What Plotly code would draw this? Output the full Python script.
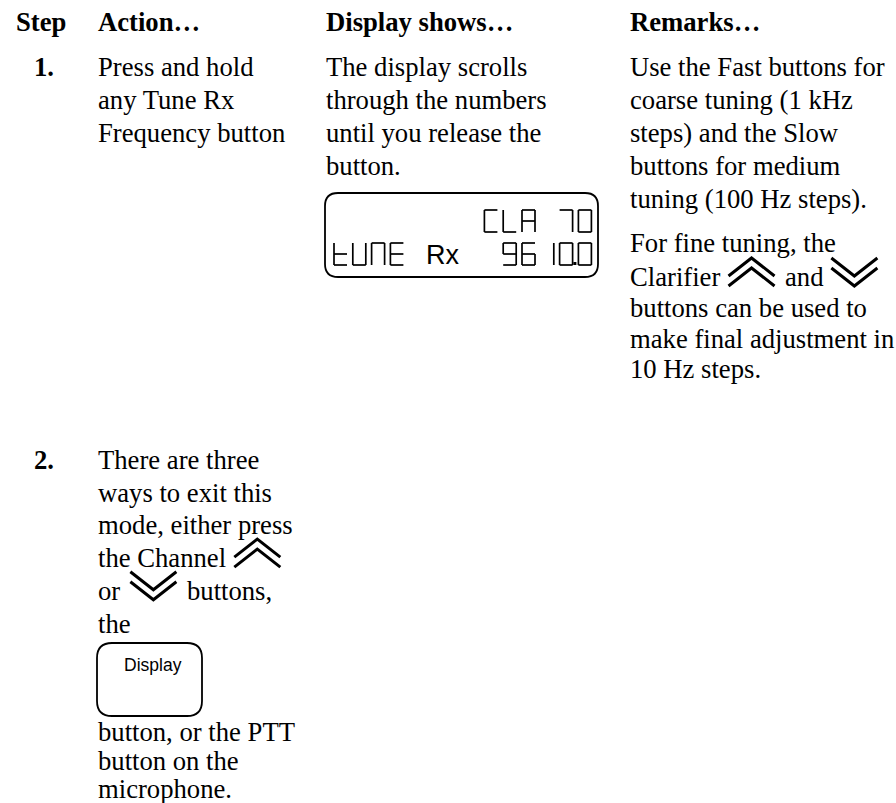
import plotly.graph_objects as go

W, H = 896, 803
SERIF = "Liberation Serif"
FS = 26.67

# ---------------- content ----------------
headers = ["Step", "Action…", "Display shows…", "Remarks…"]
col_x = [15, 97, 325, 629]
header_y = 22

step_labels = ["1.", "2."]
step_x = 33

action_1 = ["Press and hold", "any Tune Rx", "Frequency button"]
display_1 = ["The display scrolls", "through the numbers", "until you release the", "button."]
remarks_1a = ["Use the Fast buttons for", "coarse tuning (1 kHz", "steps) and the Slow",
              "buttons for medium", "tuning (100 Hz steps)."]
remarks_1b_first = "For fine tuning, the"
clarifier_words = ["Clarifier", "and"]
remarks_1b_rest = ["buttons can be used to", "make final adjustment in", "10 Hz steps."]

action_2a = ["There are three", "ways to exit this", "mode, either press"]
channel_words = ["the Channel", "or", "buttons,", "the"]
action_2b = ["button, or the PTT", "button on the", "microphone."]

lcd_line1 = "        CLA 70"
lcd_line2 = "tUNE Rx  9610.0"
button_label = "Display"

# ---------------- helpers ----------------
anns = []
shapes = []

# Times / Liberation Serif advance widths (per 1000 em)
TW = {" ": 250, "a": 444, "b": 500, "c": 444, "d": 500, "e": 444, "f": 333, "g": 500,
      "h": 500, "i": 278, "j": 278, "k": 500, "l": 278, "m": 778, "n": 500, "o": 500,
      "p": 500, "q": 500, "r": 333, "s": 389, "t": 278, "u": 500, "v": 500, "w": 722,
      "x": 500, "y": 500, "z": 444, "C": 667, ",": 250}


def tw(s, size=FS):
    return sum(TW.get(c, 500) for c in s) * size / 1000.0


def txt(x, y, s, bold=False, size=FS, family=SERIF):
    anns.append(dict(x=x, y=y, xref="x", yref="y", text=("<b>%s</b>" % s) if bold else s,
                     showarrow=False, xanchor="left", yanchor="middle", borderpad=0,
                     font=dict(family=family, size=size, color="black")))


def line(x0, y0, x1, y1, w=1.6):
    shapes.append(dict(type="line", xref="x", yref="y", x0=x0, y0=y0, x1=x1, y1=y1,
                       line=dict(color="black", width=w)))


CHW = 46
GAP = tw(" ") + 2.5


def chevron(x0, yc, up=True, w=CHW, h=18, off=10):
    """double chevron for text line centred at yc"""
    xm = x0 + w / 2
    ytop = yc - 19
    for k in range(2):
        yt = ytop + k * off
        if up:
            p = "M %f %f L %f %f L %f %f" % (x0, yt + h, xm, yt, x0 + w, yt + h)
        else:
            p = "M %f %f L %f %f L %f %f" % (x0, yt, xm, yt + h, x0 + w, yt)
        shapes.append(dict(type="path", xref="x", yref="y", path=p,
                           line=dict(color="black", width=3)))


def rrect(x0, y0, x1, y1, r, w=1.8):
    p = ("M %f %f L %f %f Q %f %f %f %f L %f %f Q %f %f %f %f L %f %f Q %f %f %f %f "
         "L %f %f Q %f %f %f %f Z") % (
        x0 + r, y0, x1 - r, y0, x1, y0, x1, y0 + r, x1, y1 - r, x1, y1, x1 - r, y1,
        x0 + r, y1, x0, y1, x0, y1 - r, x0, y0 + r, x0, y0, x0 + r, y0)
    shapes.append(dict(type="path", xref="x", yref="y", path=p,
                       line=dict(color="black", width=w)))


SEG = {
    "C": "adef", "L": "def", "A": "abcefg", "7": "abc", "0": "abcdef",
    "t": "defg", "U": "bcdef", "N": "abcef", "E": "adefg",
    "9": "abcdfg", "6": "acdefg", "1": "bc",
}


def glyph(ch, x, ytop, gw, gh):
    segs = SEG.get(ch, "")
    ym = ytop + gh / 2
    yb = ytop + gh
    xr = x + gw
    d = {
        "a": (x, ytop, xr, ytop), "b": (xr, ytop, xr, ym), "c": (xr, ym, xr, yb),
        "d": (x, yb, xr, yb), "e": (x, ym, x, yb), "f": (x, ytop, x, ym),
        "g": (x, ym, xr, ym),
    }
    for s in segs:
        line(*d[s], w=1.7)


def lcd_text(s, x0, ytop, pitch=18.8, gw=13, gh=22):
    cx = x0
    k = 0
    while k < len(s):
        ch = s[k]
        if ch == ".":
            shapes.append(dict(type="rect", xref="x", yref="y", x0=cx - 5, x1=cx - 2,
                               y0=ytop + gh - 3, y1=ytop + gh, fillcolor="black",
                               line=dict(width=0)))
            k += 1
            continue
        if ch == " ":
            cx += pitch
            k += 1
            continue
        if ch in SEG:
            glyph(ch, cx, ytop, gw, gh)
            cx += pitch
            k += 1
        else:
            run = ""
            while k < len(s) and s[k] not in SEG and s[k] not in " .":
                run += s[k]
                k += 1
            txt(cx - 3, ytop + gh / 2 + 0.5, run, size=27, family="Liberation Sans")
            cx += pitch * len(run)


# ---------------- header ----------------
for hx, h in zip(col_x, headers):
    txt(hx, header_y, h, bold=True)

# ---------------- row 1 ----------------
r1 = 67
L1 = 33
txt(step_x, r1, step_labels[0], bold=True)
for i, s in enumerate(action_1):
    txt(col_x[1], r1 + i * L1, s)
for i, s in enumerate(display_1):
    txt(col_x[2], r1 + i * L1, s)
for i, s in enumerate(remarks_1a):
    txt(col_x[3], r1 + i * L1, s)

txt(col_x[3], 243, remarks_1b_first)
yc = 277
txt(col_x[3], yc, clarifier_words[0])
cx1 = col_x[3] + tw(clarifier_words[0]) + GAP
chevron(cx1, yc, up=True)
ax = cx1 + CHW + GAP
txt(ax, yc, clarifier_words[1])
cx2 = ax + tw(clarifier_words[1]) + GAP
chevron(cx2, yc, up=False)
for i, s in enumerate(remarks_1b_rest):
    txt(col_x[3], 308 + i * 30.5, s)

# LCD display
rrect(325, 193, 598, 277, 13)
lcd_text(lcd_line1, 334, 210)
lcd_text(lcd_line2, 334, 243)

# ---------------- row 2 ----------------
r2 = 460
L2 = 32.7
txt(step_x, r2, step_labels[1], bold=True)
for i, s in enumerate(action_2a):
    txt(col_x[1], r2 + i * L2, s)
ych = r2 + 3 * L2
txt(col_x[1], ych, channel_words[0])
chevron(col_x[1] + tw(channel_words[0]) + GAP, ych, up=True)
yor = ych + L2
txt(col_x[1], yor, channel_words[1])
c3 = col_x[1] + tw(channel_words[1]) + GAP + 2
chevron(c3, yor, up=False)
txt(c3 + CHW + GAP, yor, channel_words[2])
txt(col_x[1], yor + L2, channel_words[3])

rrect(97, 643, 202, 716, 15)
txt(123, 665, button_label, size=17.5, family="Liberation Sans")

for i, s in enumerate(action_2b):
    txt(col_x[1], 732 + i * 28.5, s)

fig = go.Figure()
fig.update_layout(
    width=W, height=H, margin=dict(l=0, r=0, t=0, b=0),
    paper_bgcolor="white", plot_bgcolor="white",
    xaxis=dict(range=[0, W], visible=False, fixedrange=True),
    yaxis=dict(range=[H, 0], visible=False, fixedrange=True),
    annotations=anns, shapes=shapes, showlegend=False,
)
fig.write_html("out.html", config={"displayModeBar": False},
               post_script="document.body.style.margin='0';")
